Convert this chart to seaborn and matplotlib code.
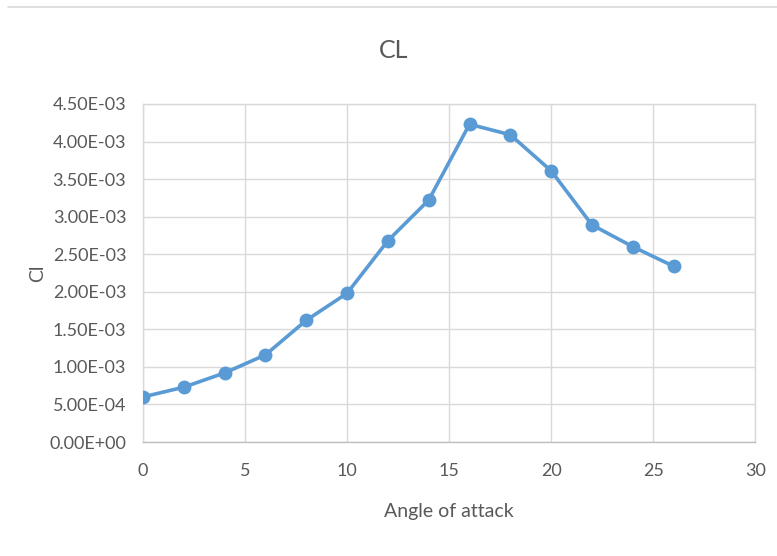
import matplotlib
matplotlib.use("Agg")
import matplotlib.pyplot as plt
import seaborn as sns
import pandas as pd
from matplotlib.ticker import FuncFormatter, MultipleLocator
from matplotlib.lines import Line2D

angle = [0, 2, 4, 6, 8, 10, 12, 14, 16, 18, 20, 22, 24, 26]
cl = [6.0e-4, 7.3e-4, 9.2e-4, 1.16e-3, 1.62e-3, 1.98e-3, 2.68e-3, 3.22e-3,
      4.23e-3, 4.09e-3, 3.61e-3, 2.89e-3, 2.60e-3, 2.34e-3]

df = pd.DataFrame({"Angle of attack": angle, "Cl": cl})

sns.set_theme(style="white")
plt.rcParams['font.family'] = ['Lato', 'DejaVu Sans']

fig = plt.figure(figsize=(7.77, 5.56), dpi=100)
ax = fig.add_axes([0.184, 0.205, 0.788, 0.608])

sns.lineplot(data=df, x="Angle of attack", y="Cl", ax=ax, color="#5B9BD5",
             linewidth=2.6, marker="o", markersize=10, markeredgewidth=0,
             zorder=3)

ax.set_xlim(0, 30)
ax.set_ylim(0, 4.5e-3)
ax.xaxis.set_major_locator(MultipleLocator(5))
ax.yaxis.set_major_locator(MultipleLocator(5e-4))
ax.yaxis.set_major_formatter(FuncFormatter(lambda v, p: f"{v:.2E}"))
ax.grid(True, color="#d9d9d9", linewidth=1)
for s in ax.spines.values():
    s.set_color("#d9d9d9")
    s.set_linewidth(1)
ax.spines['bottom'].set_color("#bfbfbf")
ax.tick_params(axis='y', length=0, labelsize=13, labelcolor="#595959", pad=12)
ax.tick_params(axis='x', length=0, labelsize=13, labelcolor="#595959", pad=15)
ax.set_xlabel("Angle of attack", fontsize=14, color="#595959")
ax.set_ylabel("Cl", fontsize=14, color="#595959")
ax.xaxis.set_label_coords(0.5, -0.207)
ax.yaxis.set_label_coords(-0.172, 0.5)
ax.xaxis.label.set_va("center")
ax.yaxis.label.set_va("center")
fig.text(0.506, 0.91, "CL", ha="center", va="center",
         fontsize=18, color="#595959")
fig.add_artist(Line2D([0.01, 1.0], [0.988, 0.988], color="#d9d9d9", linewidth=1.2,
                      transform=fig.transFigure))

fig.savefig("out.png", dpi=100)
